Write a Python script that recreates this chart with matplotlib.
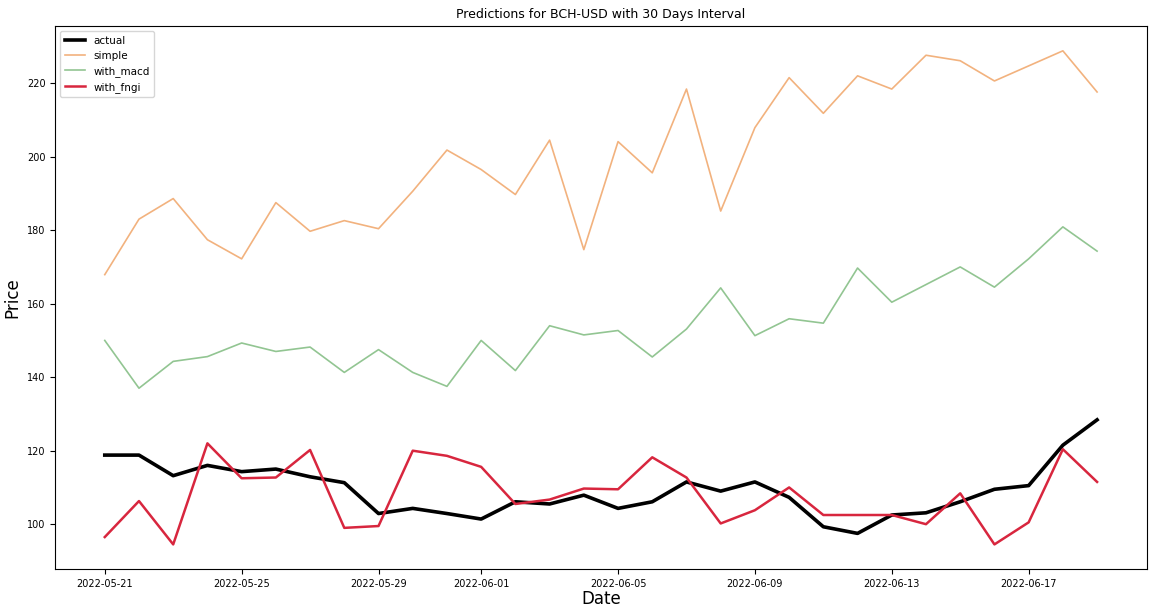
import numpy as np
import pandas as pd
import matplotlib
matplotlib.use("Agg")
import matplotlib.pyplot as plt
import matplotlib.dates as mdates

# daily closes and model predictions, 30 days
dates = pd.date_range("2022-05-21", "2022-06-19", freq="D")

actual = [118.8, 118.8, 113.2, 116.0, 114.3, 115.0, 112.9, 111.3, 102.9, 104.3,
          102.9, 101.4, 106.1, 105.5, 107.9, 104.3, 106.1, 111.5, 109.0, 111.5,
          107.3, 99.3, 97.5, 102.5, 103.1, 106.1, 109.5, 110.5, 121.5, 128.4]

simple = [167.9, 183.0, 188.6, 177.4, 172.2, 187.5, 179.7, 182.6, 180.4, 190.6,
          201.8, 196.5, 189.7, 204.5, 174.7, 204.1, 195.6, 218.4, 185.2, 207.9,
          221.5, 211.8, 222.0, 218.4, 227.6, 226.1, 220.6, 224.7, 228.8, 217.6]

with_macd = [150.0, 137.0, 144.3, 145.6, 149.3, 147.0, 148.2, 141.3, 147.5, 141.3,
             137.5, 150.0, 141.8, 154.0, 151.5, 152.7, 145.5, 153.1, 164.3, 151.3,
             155.9, 154.7, 169.7, 160.4, 165.2, 170.0, 164.5, 172.2, 180.9, 174.3]

with_fngi = [96.5, 106.3, 94.5, 122.0, 112.5, 112.7, 120.2, 99.0, 99.5, 120.0,
             118.6, 115.6, 105.5, 106.7, 109.7, 109.5, 118.2, 112.7, 100.2, 103.8,
             110.0, 102.5, 102.5, 102.5, 100.0, 108.4, 94.5, 100.5, 120.4, 111.5]

fig, ax = plt.subplots(figsize=(11.49, 6.08), dpi=100)
fig.subplots_adjust(left=0.048, right=0.998, top=0.957, bottom=0.064)

ax.plot(dates, actual, color="black", linewidth=2.6, label="actual")
ax.plot(dates, simple, color="#f2b27e", linewidth=1.2, label="simple")
ax.plot(dates, with_macd, color="#92c592", linewidth=1.2, label="with_macd")
ax.plot(dates, with_fngi, color="#d8263e", linewidth=1.8, label="with_fngi")

ax.xaxis.set_major_locator(mdates.DayLocator(bymonthday=[1, 5, 9, 13, 17, 21, 25, 29]))
ax.xaxis.set_major_formatter(mdates.DateFormatter("%Y-%m-%d"))
ax.tick_params(axis="both", labelsize=7)

ax.set_title("Predictions for BCH-USD with 30 Days Interval", fontsize=9)
ax.set_xlabel("Date", fontsize=12, labelpad=1)
ax.set_ylabel("Price", fontsize=12, labelpad=4)
ax.legend(loc="upper left", fontsize=7.5)

plt.savefig("out.png", dpi=100)
plt.close()
